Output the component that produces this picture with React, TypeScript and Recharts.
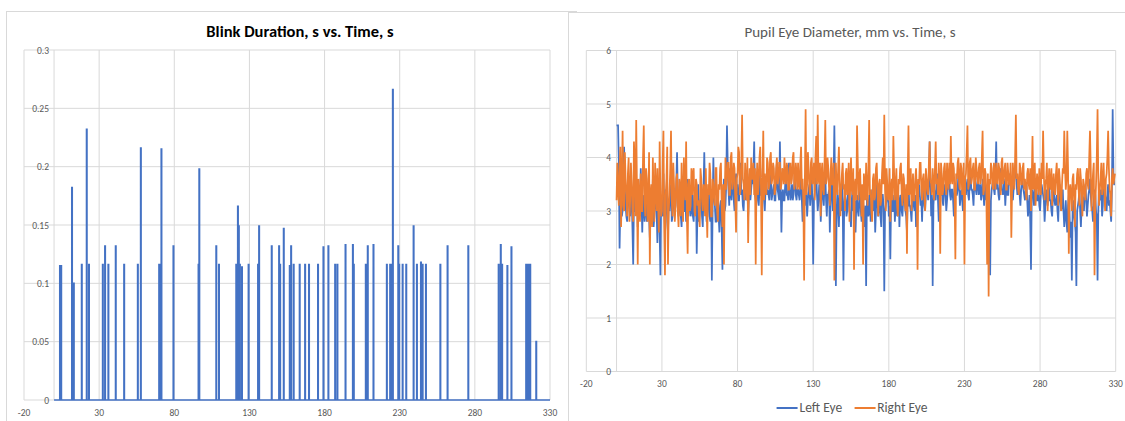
import React from 'react';
import { LineChart, Line, XAxis, YAxis, CartesianGrid, ReferenceLine } from 'recharts';

// shared time axis, s
const timeTicks = [-20, 30, 80, 130, 180, 230, 280, 330];
const blinkTicks = [0, 0.05, 0.1, 0.15, 0.2, 0.25, 0.3];
const pupilTicks = [0, 1, 2, 3, 4, 5, 6];

// blink onsets (s) and blink durations (s)
const blinkTimes = [
    3.8, 4.6, 11.8, 12.5, 13.0, 18.3, 21.6, 23.1, 32.3, 33.8, 36.0, 40.9, 46.5, 55.6, 57.6,
    69.8, 70.5, 71.3, 79.3, 96.0, 96.5, 107.8, 109.6, 121.1, 122.2, 122.8, 123.5, 124.9,
    129.3, 135.6, 136.3, 144.7, 149.6, 150.3, 152.7, 156.7, 157.6, 159.3, 163.3, 166.9,
    169.5, 175.5, 179.1, 182.4, 186.9, 188.4, 193.8, 198.7, 199.3, 207.3, 208.6, 212.4,
    221.3, 223.5, 224.2, 224.7, 225.3, 228.9, 229.5, 231.8, 234.2, 239.1, 241.3, 244.0,
    245.1, 247.3, 256.9, 261.7, 275.5, 295.7, 297.1, 298.0, 301.5, 304.2, 314.0, 314.7,
    315.4, 316.1, 316.7, 320.7
];
const blinkDurations = [
    0.115, 0.115, 0.182, 0.1, 0.1, 0.116, 0.232, 0.116, 0.116, 0.132, 0.116, 0.132, 0.116, 0.116, 0.216,
    0.116, 0.116, 0.215, 0.132, 0.116, 0.198, 0.132, 0.116, 0.116, 0.166, 0.149, 0.116, 0.114,
    0.116, 0.116, 0.149, 0.132, 0.132, 0.116, 0.147, 0.115, 0.132, 0.116, 0.116, 0.116,
    0.116, 0.116, 0.131, 0.132, 0.116, 0.116, 0.133, 0.133, 0.116, 0.116, 0.132, 0.133,
    0.116, 0.116, 0.116, 0.116, 0.266, 0.132, 0.116, 0.116, 0.116, 0.149, 0.116, 0.118,
    0.116, 0.116, 0.116, 0.132, 0.132, 0.116, 0.133, 0.116, 0.115, 0.131, 0.116, 0.116,
    0.116, 0.116, 0.116, 0.05
];
const recordStart = 0;
const recordEnd = 330;
const blinkHold = 0.3; // how long a blink sample is held in the log, s

// pupil diameter, mm: samples on the whole second ...
const leftEye = [
    4.6, 4.6, 2.3, 3.4, 3.0, 4.2, 3.1, 2.8, 3.5, 2.9,
    3.3, 2.0, 3.6, 3.0, 2.7, 3.2, 3.8, 2.6, 3.1, 3.4,
    2.8, 3.5, 2.5, 3.1, 3.6, 2.9, 3.3, 2.4, 3.0, 1.8,
    3.2, 3.7, 2.7, 3.3, 2.6, 3.0, 3.5, 2.9, 3.4, 3.1,
    4.1, 2.9, 3.3, 2.7, 3.5, 3.0, 2.8, 3.6, 3.2, 2.9,
    3.4, 2.8, 3.1, 2.2, 3.5, 3.0, 3.3, 2.7, 4.1, 3.2,
    2.9, 3.4, 2.8, 1.7, 4.0, 3.1, 2.8, 3.3, 2.6, 3.2,
    1.9, 3.6, 3.1, 4.6, 3.4, 3.8, 3.2, 3.6, 3.0, 3.7,
    3.5, 3.2, 3.9, 3.4, 3.0, 3.6, 3.3, 2.9, 3.7, 3.4,
    3.5, 4.3, 3.2, 3.6, 3.1, 3.8, 3.3, 3.5, 3.0, 3.6,
    3.4, 3.2, 3.7, 3.3, 3.5, 3.2, 3.9, 3.3, 4.3, 2.6,
    3.4, 3.2, 3.6, 3.3, 3.9, 3.2, 3.5, 3.3, 3.8, 3.2,
    3.4, 3.2, 3.6, 2.8, 3.3, 3.5, 2.9, 3.4, 3.1, 3.6,
    2.0, 3.3, 3.8, 3.0, 3.5, 2.8, 3.4, 3.1, 3.7, 2.9,
    3.3, 2.6, 3.6, 3.0, 4.6, 1.6, 3.4, 2.7, 3.2, 3.6,
    1.7, 3.3, 2.9, 3.5, 3.0, 2.7, 3.4, 3.1, 2.6, 3.3,
    2.9, 3.4, 2.8, 3.2, 2.7, 1.6, 3.3, 3.0, 2.8, 3.4,
    3.1, 2.6, 3.5, 2.9, 3.2, 2.7, 3.3, 1.5, 3.1, 3.4,
    2.9, 2.1, 3.3, 3.0, 2.8, 3.5, 3.1, 2.7, 3.3, 2.9,
    3.4, 3.0, 2.6, 3.6, 3.1, 2.8, 3.3, 3.0, 2.7, 3.2,
    3.5, 3.1, 2.8, 3.4, 3.0, 3.6, 3.2, 4.3, 2.9, 1.6,
    3.4, 3.2, 3.7, 2.8, 3.3, 3.6, 3.1, 3.5, 3.0, 3.4,
    3.6, 3.2, 3.4, 2.9, 3.5, 3.3, 3.7, 3.1, 3.4, 3.0,
    3.5, 3.3, 3.6, 3.2, 3.8, 3.4, 3.1, 3.6, 3.3, 3.7,
    3.4, 3.2, 3.6, 3.1, 3.5, 3.3, 2.9, 1.8, 3.4, 3.6,
    3.3, 4.3, 3.5, 3.2, 3.8, 3.4, 3.6, 3.1, 3.5, 3.3,
    3.7, 3.4, 3.2, 3.6, 3.9, 3.3, 3.5, 3.1, 3.6, 3.4,
    3.2, 3.5, 2.9, 3.3, 1.9, 3.4, 3.1, 3.6, 3.2, 3.4,
    3.0, 3.5, 3.3, 2.8, 3.4, 3.1, 3.6, 3.2, 2.9, 3.4,
    3.1, 3.3, 2.8, 3.5, 3.0, 3.4, 2.7, 3.2, 2.6, 3.3,
    2.5, 1.7, 3.2, 2.8, 1.6, 3.1, 3.4, 2.7, 3.3, 3.0,
    3.5, 2.9, 3.3, 3.6, 3.1, 2.8, 3.4, 3.0, 1.7, 3.5,
    3.2, 2.9, 3.6, 3.3, 3.0, 3.5, 3.2, 2.8, 4.9, 3.5
];
const rightEye = [
    3.2, 3.4, 3.8, 2.7, 4.5, 3.0, 3.6, 2.9, 4.0, 3.2,
    3.5, 2.8, 3.9, 4.7, 2.0, 3.3, 3.7, 3.0, 4.6, 2.9,
    3.6, 3.1, 2.0, 3.5, 4.0, 2.8, 3.4, 3.8, 2.6, 3.3,
    3.0, 4.5, 1.8, 3.6, 2.0, 3.3, 4.5, 2.9, 3.5, 3.1,
    3.7, 2.7, 3.4, 3.9, 2.8, 3.5, 4.3, 2.2, 3.6, 3.1,
    3.3, 3.8, 2.9, 3.5, 3.2, 2.7, 3.6, 3.0, 3.4, 3.8,
    2.5, 3.3, 3.7, 2.9, 3.5, 3.1, 3.8, 2.8, 3.4, 3.9,
    2.7, 2.0, 4.0, 3.6, 3.9, 3.3, 4.1, 3.5, 3.8, 2.6,
    3.7, 4.1, 3.4, 4.8, 3.5, 3.9, 3.2, 2.4, 3.8, 4.0,
    3.6, 3.3, 2.0, 3.9, 3.5, 4.2, 1.8, 4.5, 3.7, 3.3,
    3.9, 3.5, 4.1, 3.6, 3.8, 3.4, 4.0, 3.6, 3.9, 3.5,
    3.7, 4.0, 3.5, 3.8, 3.4, 3.9, 3.6, 4.1, 3.5, 3.7,
    3.9, 3.4, 4.2, 3.6, 1.7, 4.9, 3.5, 3.8, 3.3, 4.0,
    3.6, 3.2, 4.4, 4.8, 3.5, 2.9, 3.9, 3.3, 4.7, 3.6,
    3.8, 3.1, 4.0, 3.5, 1.7, 3.9, 3.3, 4.2, 2.9, 3.7,
    3.4, 3.0, 3.8, 3.5, 2.8, 4.0, 3.3, 1.9, 3.6, 4.6,
    3.2, 3.8, 2.9, 2.0, 3.5, 3.9, 3.1, 4.7, 3.4, 2.8,
    3.7, 3.3, 3.9, 2.9, 3.6, 3.2, 4.0, 4.8, 3.0, 3.5,
    3.3, 2.8, 3.6, 4.4, 3.2, 3.8, 2.9, 3.5, 3.9, 3.1,
    3.6, 3.0, 2.2, 4.6, 3.4, 3.0, 3.7, 3.2, 3.8, 1.9,
    3.5, 3.9, 3.2, 3.7, 3.0, 3.6, 3.3, 4.3, 3.5, 3.8,
    3.2, 4.3, 3.6, 3.9, 2.2, 3.7, 3.4, 3.9, 3.3, 3.6,
    3.9, 4.4, 3.5, 3.8, 2.1, 3.6, 4.0, 3.4, 3.8, 3.5,
    2.0, 3.7, 4.6, 3.5, 4.0, 3.6, 3.9, 3.4, 3.8, 3.5,
    3.9, 3.6, 4.5, 3.4, 3.7, 2.0, 1.4, 3.5, 3.8, 3.4,
    3.7, 3.9, 3.5, 3.8, 3.3, 4.0, 3.6, 3.9, 3.4, 3.7,
    3.5, 2.5, 3.9, 3.4, 4.8, 3.7, 3.3, 3.8, 3.5, 3.9,
    3.6, 3.2, 3.8, 3.4, 3.0, 4.4, 3.5, 3.1, 3.7, 3.3,
    3.5, 3.9, 4.5, 3.2, 3.6, 3.0, 3.8, 3.4, 3.1, 3.7,
    3.3, 3.9, 3.1, 3.6, 3.0, 3.8, 4.5, 3.4, 4.5, 2.2,
    3.5, 3.0, 3.7, 2.7, 3.4, 3.8, 3.1, 3.6, 2.9, 3.5,
    3.2, 3.8, 3.4, 4.5, 3.0, 3.7, 1.8, 3.5, 4.9, 3.1,
    3.6, 3.3, 3.9, 3.0, 3.7, 4.5, 3.4, 2.9, 3.8, 3.6
];
// ... and on the half second
const leftEyeMid = [
    4.6, 3.9, 3.1, 2.9, 3.7, 3.4, 2.9, 3.3, 3.1, 3.4,
    2.7, 3.2, 3.0, 3.5, 3.1, 2.9, 3.2, 3.3, 2.8, 3.0,
    3.2, 2.9, 3.4, 2.9, 2.7, 3.2, 3.0, 3.1, 2.6, 3.3,
    2.9, 3.0, 3.4, 2.8, 3.2, 3.4, 2.8, 3.2, 3.0, 3.5,
    3.3, 3.1, 2.9, 3.2, 3.0, 3.3, 3.1, 2.9, 3.4, 3.0,
    2.9, 3.3, 3.5, 3.0, 2.8, 3.2, 2.9, 3.4, 3.3, 2.8,
    3.2, 2.9, 3.4, 3.0, 3.3, 2.8, 3.2, 2.9, 3.1, 2.7,
    3.2, 3.0, 3.5, 3.9, 3.1, 3.3, 3.5, 3.2, 3.4, 3.3,
    3.2, 3.6, 3.3, 3.1, 3.4, 3.2, 3.5, 3.3, 3.2, 3.6,
    3.8, 3.3, 3.5, 3.2, 3.4, 3.3, 3.6, 3.2, 3.4, 3.3,
    3.3, 3.5, 3.2, 3.4, 3.2, 3.6, 3.4, 3.2, 3.5, 3.3,
    3.2, 3.5, 3.3, 3.2, 3.4, 3.3, 3.2, 3.5, 3.3, 3.4,
    3.3, 3.5, 3.2, 3.4, 3.1, 3.3, 3.2, 3.5, 3.3, 3.2,
    3.2, 3.5, 3.3, 3.2, 3.4, 3.2, 3.3, 3.5, 3.2, 3.3,
    3.4, 3.2, 3.3, 3.6, 3.3, 2.9, 3.1, 3.3, 3.0, 3.2,
    3.1, 3.2, 3.0, 3.3, 2.9, 3.2, 3.0, 3.2, 3.1, 3.0,
    3.2, 3.0, 3.3, 2.9, 3.1, 3.2, 2.9, 3.3, 3.1, 3.0,
    3.3, 3.0, 3.2, 3.1, 2.9, 3.3, 3.1, 3.0, 3.2, 3.3,
    3.1, 3.2, 3.0, 3.3, 3.1, 2.9, 3.3, 3.2, 3.0, 3.2,
    3.2, 2.9, 3.3, 3.1, 3.0, 3.2, 3.1, 3.3, 3.0, 3.3,
    3.3, 3.2, 3.4, 3.1, 3.3, 3.4, 3.5, 3.6, 3.3, 3.1,
    3.3, 3.5, 3.2, 3.4, 3.3, 3.2, 3.4, 3.3, 3.2, 3.5,
    3.3, 3.4, 3.2, 3.5, 3.3, 3.4, 3.5, 3.3, 3.2, 3.4,
    3.4, 3.5, 3.3, 3.6, 3.4, 3.3, 3.5, 3.4, 3.5, 3.3,
    3.5, 3.3, 3.4, 3.3, 3.2, 3.1, 2.6, 3.2, 3.5, 3.4,
    3.7, 3.4, 3.3, 3.5, 3.4, 3.3, 3.5, 3.4, 3.3, 3.6,
    3.5, 3.3, 3.4, 3.7, 3.5, 3.4, 3.3, 3.4, 3.5, 3.3,
    3.4, 3.2, 3.1, 2.8, 3.3, 3.3, 3.4, 3.3, 3.2, 3.1,
    3.3, 3.4, 3.2, 3.1, 3.3, 3.4, 3.2, 3.0, 3.3, 3.2,
    3.2, 3.0, 3.3, 3.2, 3.1, 3.0, 2.9, 2.8, 3.1, 2.9,
    2.8, 3.0, 2.9, 2.6, 3.0, 3.2, 3.0, 3.1, 3.2, 3.3,
    3.2, 3.1, 3.4, 3.3, 3.0, 3.2, 3.3, 2.9, 3.0, 3.3,
    3.4, 3.1, 3.3, 3.2, 3.3, 3.1, 3.0, 3.4, 3.7, 3.5
];
const rightEyeMid = [
    3.9, 3.1, 4.2, 3.5, 3.1, 4.1, 3.3, 3.7, 2.8, 3.9,
    3.0, 4.3, 2.9, 3.4, 3.6, 2.8, 3.0, 4.0, 3.2, 3.8,
    2.8, 4.1, 3.3, 2.7, 3.2, 3.9, 3.0, 3.1, 4.3, 2.9,
    3.9, 2.7, 3.3, 4.2, 3.0, 3.8, 3.2, 3.9, 2.8, 3.6,
    3.0, 3.6, 2.9, 3.2, 4.0, 3.2, 2.9, 3.5, 3.0, 3.8,
    3.7, 3.0, 3.6, 3.1, 2.9, 3.8, 3.2, 3.5, 2.9, 3.1,
    3.5, 3.9, 2.9, 3.6, 3.2, 3.8, 3.0, 3.5, 3.8, 3.1,
    3.5, 3.3, 3.4, 3.9, 3.3, 4.0, 3.4, 3.9, 3.2, 3.6,
    4.2, 3.3, 3.9, 3.6, 3.2, 3.5, 4.0, 3.4, 3.3, 3.6,
    3.9, 3.8, 3.5, 3.3, 4.0, 3.4, 3.6, 3.2, 3.4, 4.0,
    3.4, 4.0, 3.5, 3.9, 3.3, 3.8, 3.5, 3.9, 3.4, 3.8,
    3.5, 3.6, 3.9, 3.4, 3.8, 3.5, 4.0, 3.4, 3.9, 3.4,
    3.5, 3.9, 3.4, 3.2, 3.6, 3.3, 4.1, 3.4, 3.9, 3.5,
    3.9, 4.0, 3.5, 3.6, 3.9, 3.7, 3.4, 3.9, 3.5, 4.0,
    3.4, 3.7, 3.5, 3.9, 3.3, 3.4, 3.8, 3.5, 3.4, 3.9,
    3.5, 3.7, 3.3, 3.9, 3.5, 3.4, 3.8, 3.5, 3.2, 3.9,
    3.6, 3.3, 3.5, 3.7, 3.2, 3.4, 3.8, 3.3, 3.0, 3.6,
    3.2, 3.8, 3.4, 3.5, 3.1, 3.7, 3.5, 3.4, 3.8, 3.2,
    3.8, 3.4, 3.2, 3.7, 3.5, 3.1, 3.6, 3.8, 3.3, 3.7,
    3.2, 3.5, 3.7, 3.3, 3.8, 3.4, 3.2, 3.6, 3.4, 3.6,
    3.9, 3.4, 3.6, 3.3, 3.8, 3.4, 3.9, 3.6, 3.3, 3.5,
    3.8, 3.5, 3.3, 3.6, 3.9, 3.3, 3.8, 3.5, 3.9, 3.4,
    3.5, 3.6, 3.9, 3.3, 3.7, 3.9, 3.5, 3.9, 3.3, 3.9,
    3.6, 4.1, 3.4, 3.9, 3.5, 3.8, 3.4, 4.0, 3.6, 3.8,
    3.5, 4.0, 3.3, 3.8, 3.3, 3.7, 3.6, 3.9, 3.5, 3.9,
    3.4, 3.6, 3.9, 3.5, 3.9, 3.5, 3.8, 3.4, 3.9, 3.5,
    3.9, 3.4, 3.6, 4.0, 3.6, 3.4, 3.9, 3.5, 3.8, 3.4,
    3.4, 3.7, 3.5, 3.8, 3.6, 3.4, 3.9, 3.4, 3.5, 3.8,
    3.3, 3.6, 3.7, 3.5, 3.9, 3.4, 3.5, 3.8, 3.5, 3.4,
    3.7, 3.5, 3.8, 3.3, 3.5, 3.7, 3.8, 3.6, 3.8, 3.4,
    3.3, 3.6, 3.2, 3.5, 3.7, 3.4, 3.8, 3.3, 3.6, 3.3,
    3.7, 3.5, 4.0, 3.8, 3.4, 3.9, 3.1, 4.0, 3.6, 3.4,
    3.9, 3.5, 3.4, 3.6, 4.0, 3.8, 3.3, 3.6, 3.5, 3.7
];

const pupilSeries = [
    { key: 'left', name: 'Left Eye', color: '#4472C4' },
    { key: 'right', name: 'Right Eye', color: '#ED7D31' }
];

const blinkData: { t: number; v: number }[] = [{ t: recordStart, v: 0 }];
blinkTimes.forEach((t, i) => {
    const v = blinkDurations[i];
    blinkData.push({ t, v: 0 }, { t, v }, { t: t + blinkHold, v }, { t: t + blinkHold, v: 0 });
});
blinkData.push({ t: recordEnd, v: 0 });

const pupilData: { t: number; left: number; right: number }[] = [];
leftEye.forEach((l, i) => {
    pupilData.push({ t: recordStart + i, left: l, right: rightEye[i] });
    pupilData.push({ t: recordStart + i + 0.5, left: leftEyeMid[i], right: rightEyeMid[i] });
});

const FONT = 'Carlito, Calibri, Lato, "Liberation Sans", sans-serif';
const GRID = '#d9d9d9';
const LABEL = '#595959';

const makeYTick = (labelX: number) => (props: any) => (
    <text x={labelX} y={props.y} dy={3.5} textAnchor="end" fontSize={9.5} fill={LABEL} fontFamily={FONT}>
        {props.payload.value}
    </text>
);

const xTick = { fontSize: 9.5, fill: LABEL, fontFamily: FONT };

const cardStyle = {
    position: 'absolute' as const,
    border: `1px solid ${GRID}`,
    background: '#fff'
};

const titleStyle = {
    position: 'absolute' as const,
    fontFamily: FONT,
    lineHeight: 1.2,
    whiteSpace: 'nowrap' as const,
    transform: 'translateX(-50%)'
};

export default function App() {
    return (
        <div style={{ position: 'fixed', left: 0, top: 0, width: 1125, height: 421, background: '#fff', overflow: 'hidden' }}>
            <div style={{ ...cardStyle, left: 6, top: 11, width: 570, height: 430, borderRight: 'none' }} />
            <div style={{ ...cardStyle, left: 568, top: 12, width: 600, height: 430 }} />

            <div style={{ ...titleStyle, left: 300, top: 22, fontSize: 16.5, fontWeight: 'bold', color: '#000' }}>
                Blink Duration, s vs. Time, s
            </div>
            <div style={{ ...titleStyle, left: 850, top: 23, fontSize: 15, color: LABEL }}>
                Pupil Eye Diameter, mm vs. Time, s
            </div>

            <div style={{ position: 'absolute', left: 0, top: 0 }}>
                <LineChart width={560} height={421} data={blinkData}
                    margin={{ top: 50, right: 10, bottom: 0, left: 0 }}>
                    <CartesianGrid stroke={GRID} />
                    <XAxis dataKey="t" type="number" domain={[-20, 330]} ticks={timeTicks} interval={0}
                        height={21} axisLine={false} tickLine={false} tickSize={0} tickMargin={9}
                        tick={xTick} />
                    <YAxis type="number" domain={[0, 0.3]} ticks={blinkTicks} interval={0} width={24}
                        axisLine={false} tickLine={false} tick={makeYTick(49)} />
                    <ReferenceLine x={0} stroke={GRID} />
                    <Line type="linear" dataKey="v" stroke="#4472C4" strokeWidth={1.6} dot={false}
                        isAnimationActive={false} />
                </LineChart>
            </div>

            <div style={{ position: 'absolute', left: 560, top: 0 }}>
                <LineChart width={565} height={421} data={pupilData}
                    margin={{ top: 50.5, right: 9.3, bottom: 19.5, left: 0 }}>
                    <CartesianGrid stroke={GRID} />
                    <XAxis dataKey="t" type="number" domain={[-20, 330]} ticks={timeTicks} interval={0}
                        height={30} axisLine={false} tickLine={false} tickSize={0} tickMargin={9}
                        tick={xTick} />
                    <YAxis type="number" domain={[0, 6]} ticks={pupilTicks} interval={0} width={26.3}
                        axisLine={false} tickLine={false} tick={makeYTick(51)} />
                    <ReferenceLine x={0} stroke={GRID} />
                    {pupilSeries.map(s => (
                        <Line key={s.key} type="linear" dataKey={s.key} name={s.name} stroke={s.color}
                            strokeWidth={1.75} dot={false} isAnimationActive={false} />
                    ))}
                </LineChart>
            </div>

            <div style={{
                position: 'absolute', left: 852, top: 399, transform: 'translateX(-50%)',
                display: 'flex', gap: 12, fontFamily: FONT, fontSize: 13.5, lineHeight: '17px',
                color: LABEL, whiteSpace: 'nowrap'
            }}>
                {pupilSeries.map(s => (
                    <div key={s.key} style={{ display: 'flex', alignItems: 'center', gap: 2 }}>
                        <div style={{ width: 21, height: 2, background: s.color }} />
                        <span>{s.name}</span>
                    </div>
                ))}
            </div>
        </div>
    );
}
